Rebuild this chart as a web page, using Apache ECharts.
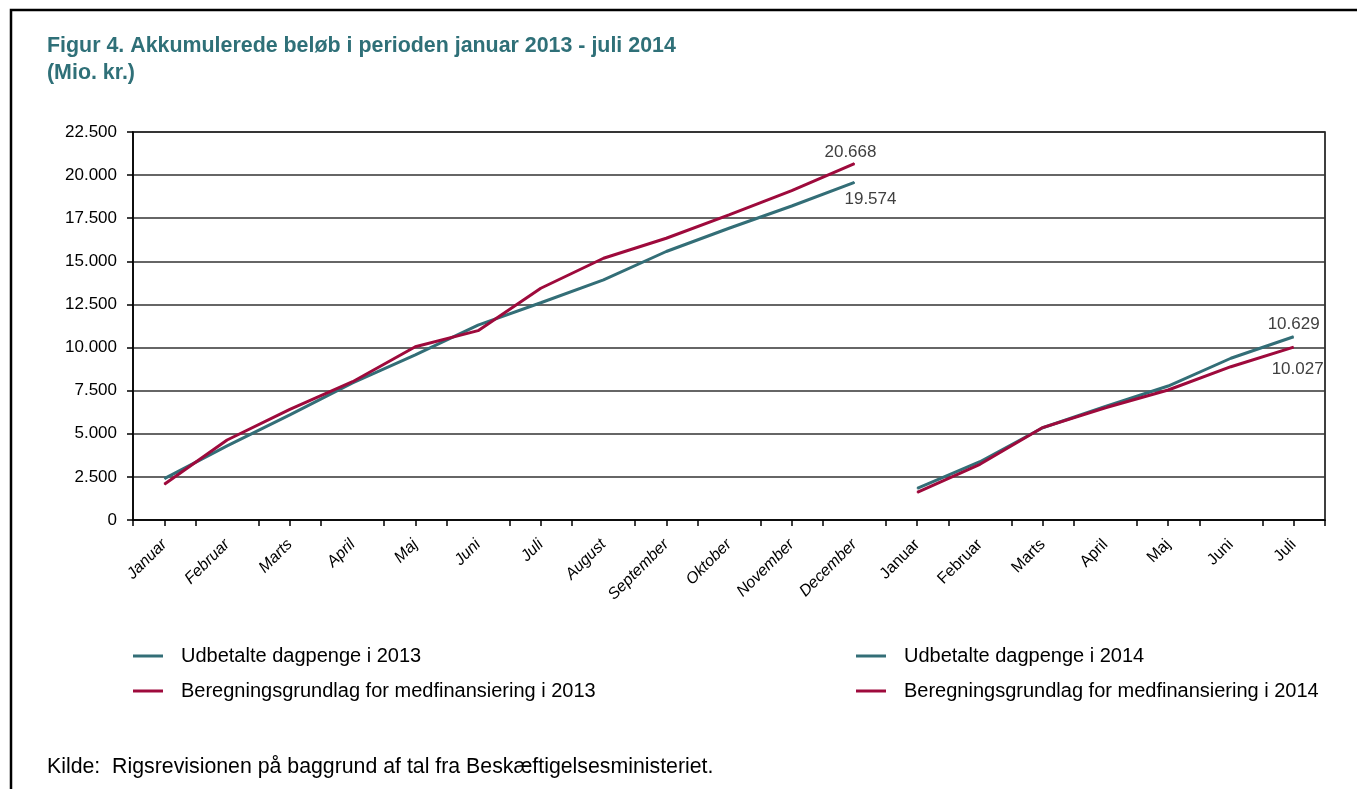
<!DOCTYPE html>
<html>
<head>
<meta charset="utf-8">
<script src="https://cdn.jsdelivr.net/npm/echarts@6/dist/echarts.min.js"></script>
<style>
  html, body { margin: 0; padding: 0; background: #fff; }
  #chart { width: 1357px; height: 789px; }
</style>
</head>
<body>
<div id="chart"></div>
<script>
const months = ['Januar', 'Februar', 'Marts', 'April', 'Maj', 'Juni', 'Juli', 'August',
    'September', 'Oktober', 'November', 'December',
    'Januar', 'Februar', 'Marts', 'April', 'Maj', 'Juni', 'Juli']

const udbetalt2013 = [2400, 4300, 6100, 7950, 9570, 11300, 12600, 13920, 15570, 16920, 18210, 19574]
const beregning2013 = [2070, 4640, 6420, 8020, 10050, 10980, 13440, 15180, 16340, 17690, 19100, 20668]
const udbetalt2014 = [1840, 3380, 5350, 6580, 7770, 9380, 10629]
const beregning2014 = [1600, 3230, 5360, 6510, 7540, 8890, 10027]

const teal = '#336e77'
const red = '#9e0a3c'
const font = 'Liberation Sans, Arial, sans-serif'

const fmt = (v) => String(v).replace(/\B(?=(\d{3})+(?!\d))/g, '.')

// lay the series out on the 19 slots and put a label on the last point
const buildData = (values, offset, labelPos) => {
    const out = months.map(() => null)
    values.forEach((v, i) => {
        out[offset + i] = v
    })
    const last = offset + values.length - 1
    out[last] = {
        value: values[values.length - 1],
        label: Object.assign({
            show: true,
            formatter: (p) => fmt(p.value),
            color: '#404040',
            fontSize: 17,
            fontFamily: font
        }, labelPos)
    }
    return out
}

const lineSeries = (name, color, data) => ({
    name: name,
    type: 'line',
    data: data,
    symbol: 'circle',
    symbolSize: 1,
    showSymbol: true,
    connectNulls: false,
    lineStyle: {color: color, width: 3},
    itemStyle: {color: color},
    z: 3
})

const legendBase = {
    orient: 'vertical',
    icon: 'rect',
    itemWidth: 30,
    itemHeight: 3,
    itemGap: 15,
    padding: 0,
    selectedMode: false,
    textStyle: {
        color: '#000',
        fontSize: 20,
        fontFamily: font,
        padding: [0, 0, 0, 13]
    }
}

const chart = echarts.init(document.getElementById('chart'))
chart.setOption({
    animation: false,
    backgroundColor: '#fff',
    textStyle: {fontFamily: font},
    title: {
        text: 'Figur 4. Akkumulerede beløb i perioden januar 2013 - juli 2014\n(Mio. kr.)',
        left: 47,
        top: 33,
        padding: 0,
        textStyle: {
            color: '#2f7078',
            fontSize: 21.4,
            fontWeight: 'bold',
            lineHeight: 27,
            fontFamily: font
        }
    },
    graphic: [
        {
            type: 'polyline',
            shape: {points: [[11, 800], [11, 10], [1360, 10]]},
            style: {stroke: '#000', lineWidth: 2.5, fill: null}
        },
        {
            type: 'text',
            left: 47,
            top: 757,
            style: {
                text: 'Kilde:  Rigsrevisionen på baggrund af tal fra Beskæftigelsesministeriet.',
                fill: '#000',
                fontSize: 21.3,
                fontFamily: font
            }
        }
    ],
    legend: [
        Object.assign({}, legendBase, {
            left: 133,
            top: 646,
            data: ['Udbetalte dagpenge i 2013', 'Beregningsgrundlag for medfinansiering i 2013']
        }),
        Object.assign({}, legendBase, {
            left: 856,
            top: 646,
            data: ['Udbetalte dagpenge i 2014', 'Beregningsgrundlag for medfinansiering i 2014']
        })
    ],
    grid: {
        left: 133,
        right: 32,
        top: 132,
        bottom: 269,
        show: true,
        borderColor: '#000',
        borderWidth: 1.5,
        containLabel: false
    },
    xAxis: [
        {
            type: 'category',
            data: months,
            boundaryGap: true,
            axisLine: {lineStyle: {color: '#000', width: 1.5}},
            axisTick: {show: true, length: 6, lineStyle: {color: '#000', width: 1.5}},
            axisLabel: {
                interval: 0,
                rotate: 45,
                color: '#000',
                fontSize: 16,
                margin: 22,
                fontFamily: font,
                // the 2013 months look slanted in the original
                formatter: (v, i) => i < 12 ? '{i|' + v + '}' : v,
                rich: {
                    i: {fontStyle: 'italic', fontSize: 16, color: '#000', fontFamily: font}
                }
            }
        },
        {
            type: 'category',
            data: months,
            position: 'bottom',
            boundaryGap: true,
            axisLine: {show: false},
            axisTick: {show: true, alignWithLabel: true, length: 6, lineStyle: {color: '#000', width: 1.5}},
            axisLabel: {show: false}
        }
    ],
    yAxis: {
        type: 'value',
        min: 0,
        max: 22500,
        interval: 2500,
        axisLine: {show: true, lineStyle: {color: '#000', width: 1.5}},
        axisTick: {show: true, length: 6, lineStyle: {color: '#000', width: 1.5}},
        axisLabel: {
            color: '#000',
            fontSize: 17,
            margin: 16,
            formatter: (v) => fmt(v),
            fontFamily: font
        },
        splitLine: {show: true, lineStyle: {color: '#333', width: 1.5}}
    },
    series: [
        lineSeries('Udbetalte dagpenge i 2013', teal,
            buildData(udbetalt2013, 0, {position: 'bottom', offset: [16, 3]})),
        lineSeries('Beregningsgrundlag for medfinansiering i 2013', red,
            buildData(beregning2013, 0, {position: 'top', offset: [-4, 3]})),
        lineSeries('Udbetalte dagpenge i 2014', teal,
            buildData(udbetalt2014, 12, {position: 'top', offset: [0, 2]})),
        lineSeries('Beregningsgrundlag for medfinansiering i 2014', red,
            buildData(beregning2014, 12, {position: 'bottom', offset: [4, 8]}))
    ]
})

window.addEventListener('resize', () => chart.resize())
</script>
</body>
</html>
